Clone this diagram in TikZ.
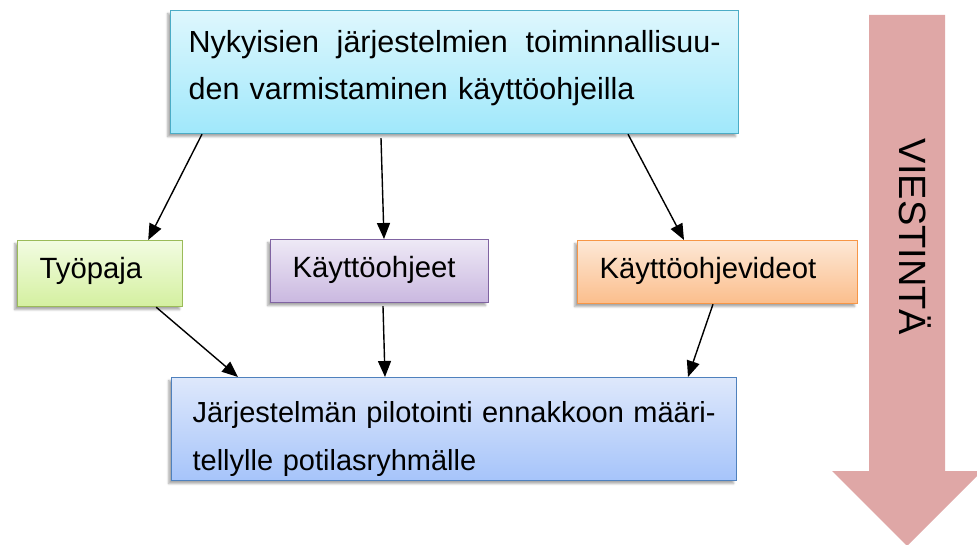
\documentclass[tikz,border=0pt]{standalone}
\usepackage{fontspec}
\setmainfont{Liberation Sans}
\usetikzlibrary{arrows.meta,shadows.blur}
\definecolor{viesti}{RGB}{223,167,166}

\begin{document}
\begin{tikzpicture}[x=1pt,y=-1pt,
	box/.style={draw, line width=1.2pt, anchor=north west, align=left, inner xsep=22pt, inner ysep=0pt,
		font=\fontsize{29.3}{46}\selectfont, text height=38pt, text depth=25pt,
		blur shadow={shadow xshift=-3pt, shadow yshift=-3pt, shadow blur steps=6, shadow opacity=35}},
	link/.style={line width=1.4pt, -{Triangle[length=16pt,width=13pt]}}]
	\useasboundingbox (0,0) rectangle (977,545);
	% big arrow on the right
	\fill[viesti] (869,15) -- (945,15) -- (945,471) -- (982,471) -- (907,546) -- (832,471) -- (869,471) -- cycle;
	\node[rotate=-90, font=\fontsize{38}{38}\selectfont] (viestinta) at (915,237) {VIESTINTÄ};
	
	\node[box, draw={rgb,255:red,75;green,172;blue,198}, top color={rgb,255:red,222;green,247;blue,253}, bottom color={rgb,255:red,160;green,232;blue,251},
		font=\fontsize{30.5}{46.5}\selectfont, inner xsep=18pt, text width=532pt, text height=42pt, text depth=81pt] (nyky) at (170,10)
		{Nykyisien\hfill järjestelmien\hfill toiminnallisuu-\\den varmistaminen käyttöohjeilla};
	
	\node[box, draw={rgb,255:red,155;green,187;blue,89}, top color={rgb,255:red,242;green,252;blue,225}, bottom color={rgb,255:red,212;green,240;blue,160},
		text width=121pt, text depth=28pt] (tyopaja) at (17,240) {Työpaja};
	\node[box, draw={rgb,255:red,128;green,100;blue,162}, top color={rgb,255:red,238;green,233;blue,246}, bottom color={rgb,255:red,202;green,184;blue,224},
		text width=174pt] (ohjeet) at (270,239) {Käyttöohjeet};
	\node[box, draw={rgb,255:red,247;green,150;blue,70}, top color={rgb,255:red,253;green,232;blue,214}, bottom color={rgb,255:red,251;green,190;blue,140},
		text width=236pt] (videot) at (577,240) {Käyttöohjevideot};
	
	\node[box, draw={rgb,255:red,79;green,129;blue,189}, top color={rgb,255:red,222;green,232;blue,251}, bottom color={rgb,255:red,166;green,196;blue,250},
		font=\fontsize{29}{48}\selectfont, inner xsep=21pt, text width=523pt, text height=45pt, text depth=58pt] (pilotointi) at (171,377)
		{Järjestelmän\hfill pilotointi\hfill ennakkoon\hfill määri-\\tellylle potilasryhmälle};
	
	\draw[link] ([xshift=32pt]nyky.south west) -- ([xshift=-35pt]tyopaja.north east);
	\draw[link] ([xshift=211pt,yshift=-4pt]nyky.south west) -- ([xshift=114pt]ohjeet.north west);
	\draw[link] ([xshift=458pt]nyky.south west) -- ([xshift=107pt]videot.north west);
	
	\draw[link] ([xshift=-27pt]tyopaja.south east) -- ([xshift=67pt]pilotointi.north west);
	\draw[link] ([xshift=113pt,yshift=-3pt]ohjeet.south west) -- ([xshift=214pt]pilotointi.north west);
	\draw[link] ([xshift=136pt]videot.south west) -- ([xshift=517pt]pilotointi.north west);
\end{tikzpicture}
\end{document}
